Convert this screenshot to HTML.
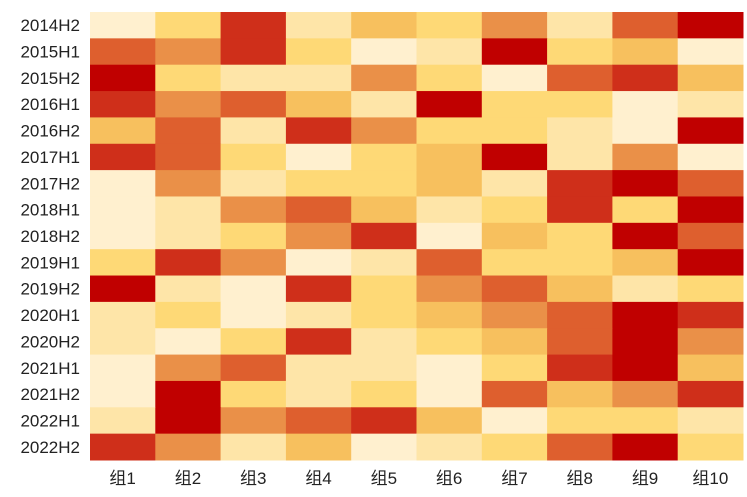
<!DOCTYPE html>
<html><head><meta charset="utf-8"><style>
body{margin:0;background:#fff;}
svg text{font-family:"Liberation Sans","Noto Sans CJK SC",sans-serif;font-size:17px;fill:#222;}
</style></head><body>
<svg id="chart" width="747" height="492" viewBox="0 0 747 492"></svg>
<script>
const rows=["2014H2","2015H1","2015H2","2016H1","2016H2","2017H1","2017H2","2018H1","2018H2","2019H1","2019H2","2020H1","2020H2","2021H1","2021H2","2022H1","2022H2"];
const cols=["组1","组2","组3","组4","组5","组6","组7","组8","组9","组10"];
const values=[
[0,2,6,1,3,2,4,1,5,7],
[5,4,6,2,0,1,7,2,3,0],
[7,2,1,1,4,2,0,5,6,3],
[6,4,5,3,1,7,2,2,0,1],
[3,5,1,6,4,2,2,1,0,7],
[6,5,2,0,2,3,7,1,4,0],
[0,4,1,2,2,3,1,6,7,5],
[0,1,4,5,3,1,2,6,2,7],
[0,1,2,4,6,0,3,2,7,5],
[2,6,4,0,1,5,2,2,3,7],
[7,1,0,6,2,4,5,3,1,2],
[1,2,0,1,2,3,4,5,7,6],
[1,0,2,6,1,2,3,5,7,4],
[0,4,5,1,1,0,2,6,7,3],
[0,7,2,1,2,0,5,3,4,6],
[1,7,4,5,6,3,0,2,2,1],
[6,4,1,3,0,1,2,5,7,2]];
const palette=["#FFF0CF","#FEE5A8","#FED976","#F7C05E","#EA9048","#DE5F2E","#CF2F1A","#C00000"];
const L=90,T=12,R=743,B=460;
const cw=(R-L)/cols.length, ch=(B-T)/rows.length;
const xPos=i=>L+i*cw, yPos=j=>T+j*ch;
const svg=document.getElementById('chart');
const NS="http://www.w3.org/2000/svg";
function color(v){const i=Math.max(0,Math.min(7,Math.round(v)));return palette[i];}
values.forEach((row,j)=>row.forEach((v,i)=>{
  const r=document.createElementNS(NS,'rect');
  r.setAttribute('x',xPos(i));r.setAttribute('y',yPos(j));
  r.setAttribute('width',cw+0.5);r.setAttribute('height',ch+0.5);
  r.setAttribute('fill',color(v));
  
  
  svg.appendChild(r);
}));
rows.forEach((lab,j)=>{
  const t=document.createElementNS(NS,'text');
  t.setAttribute('x',80);t.setAttribute('y',yPos(j)+ch/2+6);
  t.setAttribute('text-anchor','end');t.textContent=lab;
  
  
  svg.appendChild(t);
});
cols.forEach((lab,i)=>{
  const t=document.createElementNS(NS,'text');
  t.setAttribute('x',xPos(i)+cw/2);t.setAttribute('y',484);
  t.setAttribute('text-anchor','middle');t.textContent=lab;
  
  
  svg.appendChild(t);
});
</script>
</body></html>
